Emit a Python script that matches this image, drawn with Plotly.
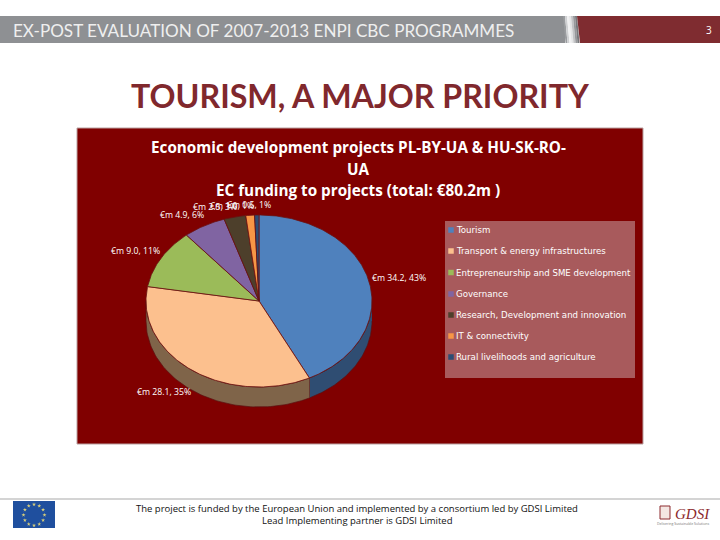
import numpy as np
import plotly.graph_objects as go

# ---- data ----
categories = ["Tourism", "Transport & energy infrastructures",
              "Entrepreneurship and SME development", "Governance",
              "Research, Development and innovation", "IT & connectivity",
              "Rural livelihoods and agriculture"]
values = [34.2, 28.1, 9.0, 4.9, 2.5, 1.0, 0.5]
top_colors = ["#4F81BD", "#FCC08E", "#9BBB59", "#8064A2", "#4D3F2B", "#F79646", "#2C4D75"]
side_colors = ["#2F4D72", "#7F6449", "#5E7136", "#4D3C62", "#2E261A", "#95592A", "#1A2E46"]
title_lines = ["Economic development projects PL-BY-UA & HU-SK-RO-", "UA",
               "EC funding to projects (total: €80.2m )"]

CX, CY, RX, RY, DEPTH = 259.0, 301.0, 113.0, 86.0, 20.0
total = sum(values)
fracs = np.cumsum([0] + values) / total * 2 * np.pi


def ex(a):
    return CX + RX * np.sin(a)


def ey(a):
    return CY - RY * np.cos(a)


fig = go.Figure()

# 3D walls (only the front half of the rim is visible)
for i, (v, col) in enumerate(zip(values, side_colors)):
    a0, a1 = max(fracs[i], np.pi / 2), min(fracs[i + 1], 3 * np.pi / 2)
    if a1 <= a0:
        continue
    t = np.linspace(a0, a1, 80)
    xs = np.r_[ex(t), ex(t[::-1])]
    ys = np.r_[ey(t), ey(t[::-1]) + DEPTH]
    fig.add_trace(go.Scatter(x=xs, y=ys, mode="lines", fill="toself", fillcolor=col,
                             line=dict(color="#5A1010", width=0.7),
                             hoverinfo="skip", showlegend=False))

# top faces
for i, (name, v, col) in enumerate(zip(categories, values, top_colors)):
    t = np.linspace(fracs[i], fracs[i + 1], max(4, int(v * 6)))
    xs = np.r_[CX, ex(t), CX]
    ys = np.r_[CY, ey(t), CY]
    fig.add_trace(go.Scatter(x=xs, y=ys, mode="lines", fill="toself", fillcolor=col,
                             line=dict(color="#6A1212", width=0.8), name=name,
                             text=f"{name}: €m {v}", hoverinfo="text", showlegend=False))

# data labels
label_xy = [(398.5, 278), (163.5, 392), (135.5, 251), (182, 214.5), (215, 207), (232, 205.5), (249, 205)]
annotations = []
for v, (lx, ly) in zip(values, label_xy):
    annotations.append(dict(x=lx, y=ly, text=f"€m {v:.1f}, {v / total * 100:.0f}%",
                            showarrow=False, font=dict(family="Open Sans", size=8.7, color="white")))

# chart title
for line, ty in zip(title_lines, [147, 169, 190]):
    annotations.append(dict(x=358, y=ty, text=f"<b>{line}</b>", showarrow=False,
                            font=dict(family="Open Sans", size=15.25, color="white")))

# legend
legend_x, legend_y = [451] * 7, [230, 251, 272.5, 294, 315, 336, 357]
fig.add_trace(go.Scatter(x=legend_x, y=legend_y, mode="markers", hoverinfo="skip", showlegend=False,
                         marker=dict(symbol="square", size=5.5, color=top_colors, line=dict(width=0))))
for name, lx, ly in zip(categories, legend_x, legend_y):
    annotations.append(dict(x=lx + 3, y=ly, text=name, xanchor="left", showarrow=False,
                            font=dict(family="DejaVu Sans", size=8.65, color="white")))

# EU flag stars
st = np.arange(12) / 12 * 2 * np.pi
fig.add_trace(go.Scatter(x=34 + 10.5 * np.sin(st), y=515 + 10.5 * np.cos(st), mode="markers",
                         hoverinfo="skip", showlegend=False,
                         marker=dict(symbol="star", size=3, color="#D9CF7A", line=dict(width=0))))

# page texts
annotations += [
    dict(x=11, y=30, xanchor="left", text="EX-POST EVALUATION OF 2007-2013 ENPI CBC PROGRAMMES", showarrow=False,
         font=dict(family="Lato", size=17.1, color="#EFEFEF")),
    dict(x=709, y=30, text="3", showarrow=False, font=dict(family="Open Sans", size=10, color="white")),
    dict(x=360, y=95, text="<b>TOURISM, A MAJOR PRIORITY</b>", showarrow=False,
         font=dict(family="Lato", size=32.2, color="#80282D")),
    dict(x=357, y=508.5, text="The project is funded by the European Union and implemented by a consortium led by GDSI Limited",
         showarrow=False, font=dict(family="Open Sans", size=9.5, color="#111111")),
    dict(x=357, y=520.5, text="Lead Implementing partner is GDSI Limited", showarrow=False,
         font=dict(family="Open Sans", size=9.5, color="#111111")),
    dict(x=692, y=514, text="<i>GDSI</i>", showarrow=False, font=dict(family="Liberation Serif", size=15, color="#8C2A2E")),
    dict(x=683, y=523.5, text="Delivering Sustainable Solutions", showarrow=False,
         font=dict(family="Open Sans", size=3.5, color="#777777")),
]


def rect(x0, y0, x1, y1, color, line=None):
    return dict(type="rect", x0=x0, y0=y0, x1=x1, y1=y1, fillcolor=color, layer="below",
                line=dict(color=line or color, width=1 if line else 0))


shapes = [
    rect(0, 16, 565, 43, "#8E9093"),
    rect(77, 128, 643, 444, "#800000", "#B9A0A0"),
    rect(445, 221, 635, 378, "#A85A5C"),
    rect(0, 498, 720, 500, "#D4D4D4"),
    rect(13, 501, 55, 528, "#1F4F9E"),
    rect(660, 506, 670, 519, "#F4E6E2", "#8C2A2E"),
]
for k, c in enumerate(["#9A9C9F", "#CFD0D2", "#F1F1F2", "#E4E5E6", "#C2C3C5", "#97989B", "#77787B"]):
    shapes.append(dict(type="path", path=f"M{563 + 2 * k},16 L{565 + 2 * k},16 L{567.5 + 2 * k},43 L{565.5 + 2 * k},43 Z",
                       fillcolor=c, line=dict(width=0), layer="below"))
shapes.append(dict(type="path", path="M577,16 L720,16 L720,43 L580,43 Z", fillcolor="#7F2C30",
                   line=dict(width=0), layer="below"))

fig.update_layout(
    width=720, height=540, margin=dict(l=0, r=0, t=0, b=0), paper_bgcolor="white", plot_bgcolor="white",
    xaxis=dict(range=[0, 720], visible=False, fixedrange=True),
    yaxis=dict(range=[540, 0], visible=False, fixedrange=True),
    shapes=shapes, annotations=annotations, showlegend=False,
)
fig.write_html("out.html", post_script="document.body.style.margin='0';", config=dict(displayModeBar=False))
